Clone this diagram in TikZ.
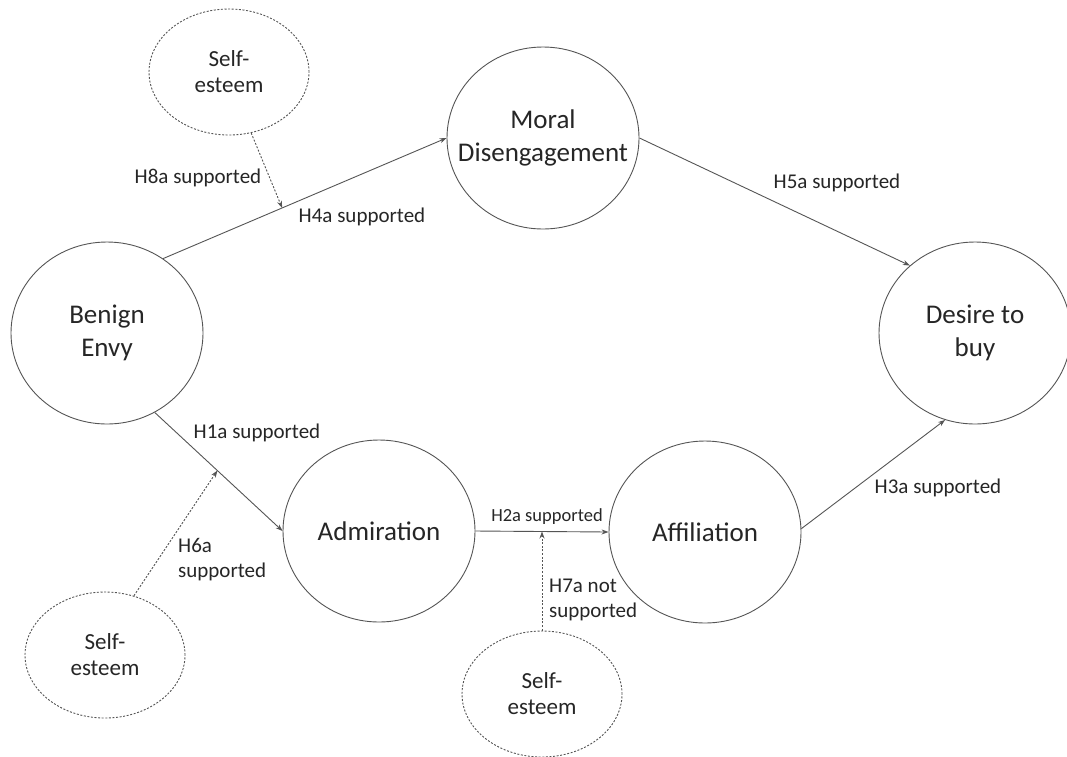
\documentclass[tikz,border=0pt]{standalone}
\usepackage{fontspec}
\setmainfont{Carlito}
\usetikzlibrary{shapes.geometric,arrows.meta}
\definecolor{ink}{HTML}{262626}
\definecolor{edgegray}{HTML}{555555}
\begin{document}
\begin{tikzpicture}[x=1pt,y=-1pt,
  construct/.style={ellipse,draw=edgegray,line width=0.9pt,minimum width=192pt,minimum height=182pt,inner sep=0pt,
    label={[align=center,text=ink,font=\fontsize{27}{33}\selectfont,inner sep=0pt]center:#1}},
  moderator/.style={ellipse,draw=edgegray,line width=0.9pt,dash pattern=on 2pt off 1.6pt,minimum width=160pt,minimum height=126pt,inner sep=0pt,align=center,text=ink,font=\fontsize{23}{26}\selectfont},
  link/.style={draw=edgegray,line width=0.9pt,-{Stealth[length=7pt,width=5pt]}},
  modlink/.style={link,dash pattern=on 2pt off 1.6pt},
  lbl/.style={text=ink,font=\fontsize{21}{25}\selectfont,inner sep=0pt},
  smalllbl/.style={text=ink,font=\fontsize{18.5}{22}\selectfont,inner sep=0pt}
]
\useasboundingbox (0,0) rectangle (1067,756);
\fill[white] (0,0) rectangle (1067,756);

\node[construct={Moral\\Disengagement}] (moral) at (543,138) {};
\node[construct={Benign\\Envy}] (benign) at (107,333) {};
\node[construct={Desire to\\buy}] (desire) at (975,333) {};
\node[construct={Admiration}] (admiration) at (379,531) {};
\node[construct={Affiliation}] (affiliation) at (705,532) {};

\node[moderator] (se1) at (229,72) {Self-\\esteem};
\node[moderator] (se2) at (105,655) {Self-\\esteem};
\node[moderator] (se3) at (542,694) {Self-\\esteem};

\draw[link] (benign.53) -- (moral.180) coordinate[pos=0.42] (c4);
\draw[link] (moral.0) -- (desire.134);
\draw[link] (benign.301) -- (admiration.180) coordinate[pos=0.49] (c1);
\draw[link] (admiration.0) -- (affiliation.180) coordinate[pos=0.5] (c2);
\draw[link] (affiliation.2) -- (desire.251);

\draw[modlink] (se1.290) -- (c4);
\draw[modlink] (se2.64) -- (c1);
\draw[modlink] (se3.north) -- (c2);

\node[lbl] (l8) at (198,178) {H8a supported};
\node[lbl] (l4) at (362,217) {H4a supported};
\node[lbl] (l5) at (837,183) {H5a supported};
\node[lbl] (l1) at (257,433) {H1a supported};
\node[lbl] (l3) at (938,488) {H3a supported};
\node[smalllbl] (l2) at (547,517) {H2a supported};
\node[lbl,anchor=west,align=left] (l6) at (178,560) {H6a\\supported};
\node[lbl,anchor=west,align=left] (l7) at (549,600) {H7a not\\supported};
\end{tikzpicture}
\end{document}
